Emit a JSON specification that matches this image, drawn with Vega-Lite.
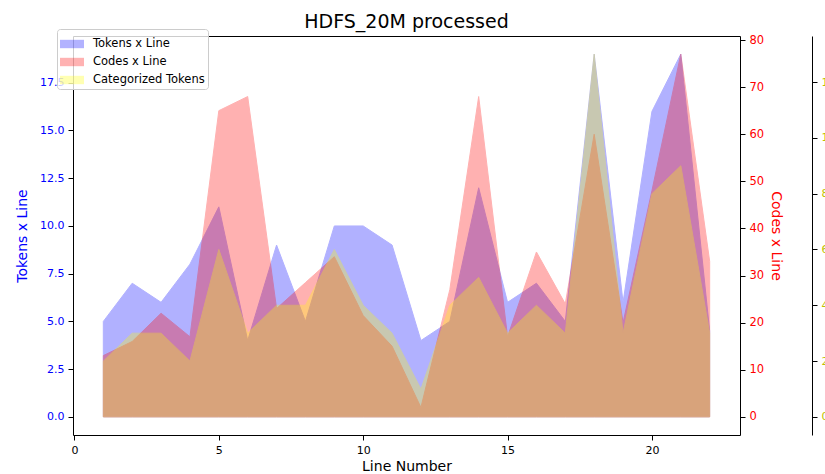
{
  "$schema": "https://vega.github.io/schema/vega-lite/v6.json",
  "width": 667,
  "height": 399,
  "autosize": {"type": "none"},
  "padding": {"left": 73, "top": 36, "right": 85, "bottom": 39},
  "background": "white",
  "title": {"text": "HDFS_20M processed", "fontSize": 19, "fontWeight": "normal", "font": "DejaVu Sans", "offset": -3, "color": "black", "anchor": "middle"},
  "config": {
    "font": "DejaVu Sans",
    "view": {"stroke": "black", "strokeWidth": 1},
    "axis": {"grid": false, "labelFontSize": 11, "titleFontSize": 14, "titleFontWeight": "normal", "tickColor": "black", "domainColor": "black", "tickSize": 5, "labelPadding": 4, "labelFont": "DejaVu Sans", "titleFont": "DejaVu Sans"}
  },
  "data": {
    "values": [
      {"x": 1, "tokens": 5, "codes": 13, "cat": 2},
      {"x": 2, "tokens": 7, "codes": 16, "cat": 3},
      {"x": 3, "tokens": 6, "codes": 22, "cat": 3},
      {"x": 4, "tokens": 8, "codes": 17, "cat": 2},
      {"x": 5, "tokens": 11, "codes": 65, "cat": 6},
      {"x": 6, "tokens": 4, "codes": 68, "cat": 3},
      {"x": 7, "tokens": 9, "codes": 23, "cat": 4},
      {"x": 8, "tokens": 5, "codes": 28.5, "cat": 4},
      {"x": 9, "tokens": 10, "codes": 34, "cat": 6},
      {"x": 10, "tokens": 10, "codes": 21.5, "cat": 4},
      {"x": 11, "tokens": 9, "codes": 15, "cat": 3},
      {"x": 12, "tokens": 4, "codes": 2, "cat": 1},
      {"x": 13, "tokens": 5, "codes": 27, "cat": 4},
      {"x": 14, "tokens": 12, "codes": 68, "cat": 5},
      {"x": 15, "tokens": 6, "codes": 17, "cat": 3},
      {"x": 16, "tokens": 7, "codes": 35, "cat": 4},
      {"x": 17, "tokens": 5, "codes": 24, "cat": 3},
      {"x": 18, "tokens": 19, "codes": 60, "cat": 13},
      {"x": 19, "tokens": 6, "codes": 20, "cat": 3},
      {"x": 20, "tokens": 16, "codes": 48, "cat": 8},
      {"x": 21, "tokens": 19, "codes": 77, "cat": 9},
      {"x": 22, "tokens": 4.5, "codes": 33, "cat": 3}
    ]
  },
  "encoding": {
    "x": {"field": "x", "type": "quantitative", "scale": {"domain": [-0.05, 23.05], "nice": false, "zero": false},
      "axis": {"values": [0, 5, 10, 15, 20], "format": "d", "title": "Line Number", "domain": false, "titlePadding": 4, "labelColor": "black", "titleColor": "black"}}
  },
  "layer": [
    {
      "mark": {"type": "area", "opacity": 0.3, "stroke": "#0000ff", "strokeWidth": 1},
      "encoding": {
        "y": {"field": "tokens", "type": "quantitative", "stack": null, "scale": {"domain": [-0.95, 19.95], "nice": false, "zero": false},
          "axis": {"orient": "left", "values": [0, 2.5, 5, 7.5, 10, 12.5, 15, 17.5], "format": ".1f", "title": "Tokens x Line", "titleColor": "#0000ff", "labelColor": "#0000ff", "domain": false, "titlePadding": 10}},
        "y2": {"datum": 0},
        "color": {"datum": "Tokens x Line", "type": "nominal",
          "scale": {"domain": ["Tokens x Line", "Codes x Line", "Categorized Tokens"], "range": ["#0000ff", "#ff0000", "#ffff00"]},
          "legend": {"title": null, "orient": "none", "legendX": -16, "legendY": -7, "symbolType": "M-1,-0.35L1,-0.35L1,0.35L-1,0.35Z", "symbolSize": 576, "symbolOpacity": 0.3, "symbolStrokeWidth": 0, "labelFontSize": 11.5, "labelColor": "black", "labelOffset": 9, "rowPadding": 0, "padding": 3, "fillColor": "rgba(255,255,255,0.8)", "strokeColor": "#cccccc", "cornerRadius": 3}}
      }
    },
    {
      "mark": {"type": "area", "opacity": 0.3, "stroke": "#ff0000", "strokeWidth": 1},
      "encoding": {
        "y": {"field": "codes", "type": "quantitative", "stack": null, "scale": {"domain": [-3.85, 80.85], "nice": false, "zero": false},
          "axis": {"orient": "right", "values": [0, 10, 20, 30, 40, 50, 60, 70, 80], "format": "d", "title": "Codes x Line", "titleColor": "#ff0000", "labelColor": "#ff0000", "domain": false, "titlePadding": 5, "labelFontSize": 11.5}},
        "y2": {"datum": 0},
        "color": {"datum": "Codes x Line", "type": "nominal"}
      }
    },
    {
      "mark": {"type": "area", "opacity": 0.3, "stroke": "#ffff00", "strokeWidth": 1},
      "encoding": {
        "y": {"field": "cat", "type": "quantitative", "stack": null, "scale": {"domain": [-0.65, 13.65], "nice": false, "zero": false},
          "axis": {"orient": "right", "offset": 72, "values": [0, 2, 4, 6, 8, 10, 12], "format": "d", "title": "Categorized Tokens", "titleColor": "#bfbf00", "labelColor": "#bfbf00", "domain": true, "domainColor": "black", "titlePadding": 5}},
        "y2": {"datum": 0},
        "color": {"datum": "Categorized Tokens", "type": "nominal"}
      }
    }
  ],
  "resolve": {"scale": {"y": "independent"}, "axis": {"y": "independent"}}
}
